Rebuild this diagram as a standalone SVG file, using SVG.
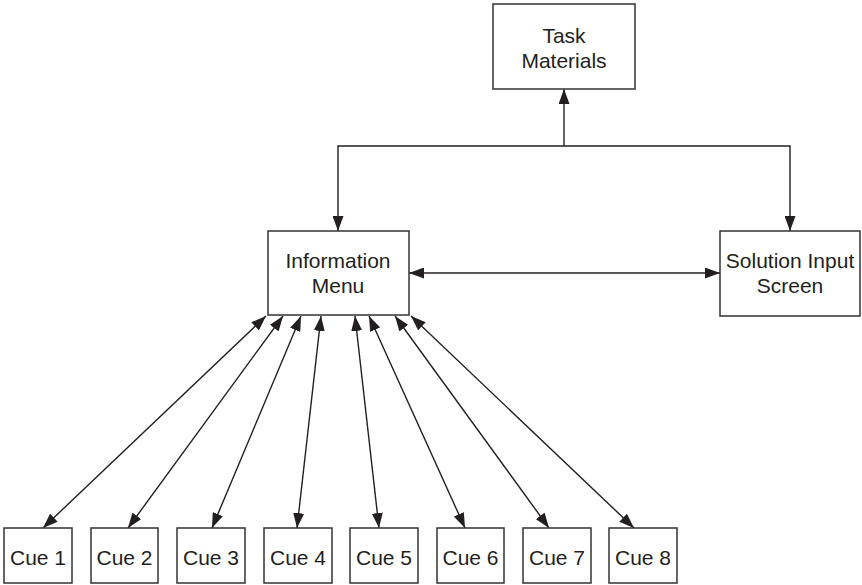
<svg xmlns="http://www.w3.org/2000/svg" width="862" height="585" viewBox="0 0 862 585">
<style>
.box{fill:#fff;stroke:#333;stroke-width:1.5}
.t{font-family:"Liberation Sans",Arial,sans-serif;font-size:21px;fill:#231f20;text-anchor:middle}
.c{fill:none;stroke:#231f20;stroke-width:1.4}
</style>
<defs>
<marker id="ah" viewBox="0 0 15 11" refX="15" refY="5.5" markerWidth="15" markerHeight="11" markerUnits="userSpaceOnUse" orient="auto-start-reverse">
<path d="M0,0 L15,5.5 L0,11 z" fill="#231f20"/>
</marker>
</defs>
<rect width="862" height="585" fill="#fff"/>
<g id="connectors">
<path class="c" d="M564,146 V89" marker-end="url(#ah)"/>
<path class="c" d="M338,231 V146 H790 V231" marker-start="url(#ah)" marker-end="url(#ah)"/>
<line class="c" x1="409" y1="273" x2="720" y2="273" marker-start="url(#ah)" marker-end="url(#ah)"/>
<line class="c" x1="266" y1="316" x2="43" y2="528" marker-start="url(#ah)" marker-end="url(#ah)"/>
<line class="c" x1="283" y1="316" x2="128" y2="528" marker-start="url(#ah)" marker-end="url(#ah)"/>
<line class="c" x1="301" y1="316" x2="212" y2="528" marker-start="url(#ah)" marker-end="url(#ah)"/>
<line class="c" x1="321" y1="316" x2="297" y2="528" marker-start="url(#ah)" marker-end="url(#ah)"/>
<line class="c" x1="355" y1="316" x2="379" y2="528" marker-start="url(#ah)" marker-end="url(#ah)"/>
<line class="c" x1="369" y1="316" x2="465" y2="528" marker-start="url(#ah)" marker-end="url(#ah)"/>
<line class="c" x1="395" y1="316" x2="549" y2="528" marker-start="url(#ah)" marker-end="url(#ah)"/>
<line class="c" x1="411" y1="316" x2="634" y2="528" marker-start="url(#ah)" marker-end="url(#ah)"/>
</g>
<g id="task-materials">
<rect class="box" x="493" y="4" width="142" height="85"/>
<text class="t" x="564" y="43">Task</text>
<text class="t" x="564" y="68">Materials</text>
</g>
<g id="information-menu">
<rect class="box" x="268" y="231" width="141" height="84"/>
<text class="t" x="338" y="268">Information</text>
<text class="t" x="338" y="293">Menu</text>
</g>
<g id="solution-input-screen">
<rect class="box" x="720" y="231" width="140" height="85"/>
<text class="t" x="790" y="268">Solution Input</text>
<text class="t" x="790" y="293">Screen</text>
</g>
<g id="cue1"><rect class="box" x="4" y="528" width="68" height="55"/><text class="t" x="38" y="565">Cue 1</text></g>
<g id="cue2"><rect class="box" x="91" y="528" width="67" height="55"/><text class="t" x="124.5" y="565">Cue 2</text></g>
<g id="cue3"><rect class="box" x="177" y="528" width="68" height="55"/><text class="t" x="211" y="565">Cue 3</text></g>
<g id="cue4"><rect class="box" x="264" y="528" width="68" height="55"/><text class="t" x="298" y="565">Cue 4</text></g>
<g id="cue5"><rect class="box" x="350" y="528" width="68" height="55"/><text class="t" x="384" y="565">Cue 5</text></g>
<g id="cue6"><rect class="box" x="437" y="528" width="67" height="55"/><text class="t" x="470.5" y="565">Cue 6</text></g>
<g id="cue7"><rect class="box" x="523" y="528" width="68" height="55"/><text class="t" x="557" y="565">Cue 7</text></g>
<g id="cue8"><rect class="box" x="609" y="528" width="68" height="55"/><text class="t" x="643" y="565">Cue 8</text></g>
</svg>
